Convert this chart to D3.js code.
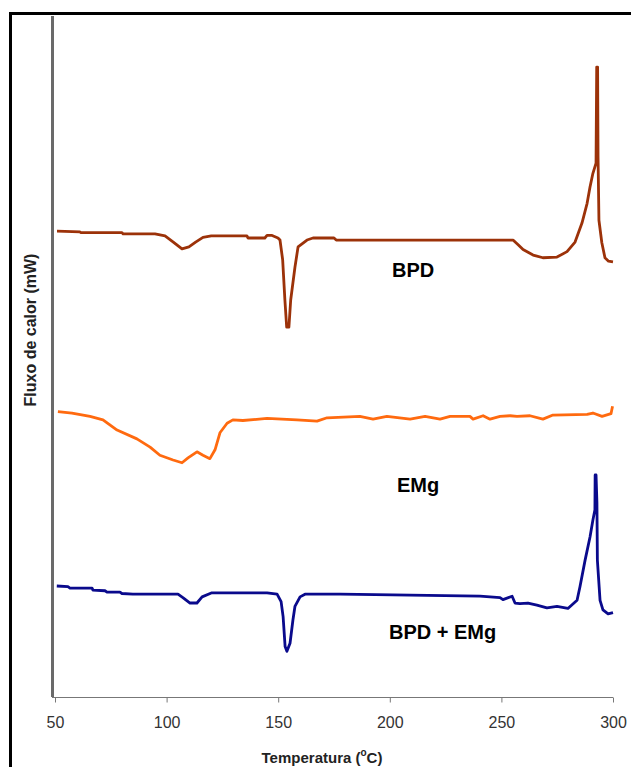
<!DOCTYPE html>
<html>
<head>
<meta charset="utf-8">
<script src="https://cdn.jsdelivr.net/npm/d3@7"></script>
<style>
  body { margin: 0; background: #fff; }
  svg { display: block; font-family: "Liberation Sans", Arial, sans-serif; }
</style>
</head>
<body>
<div id="chart"></div>
<script>
// eixo x: temperatura (°C)
var xTicks = [50, 100, 150, 200, 250, 300];

// curvas DSC (fluxo de calor, unidades arbitrárias, deslocadas)
var bpdT = [50.9, 61.2, 61.5, 80, 80.5, 94.8, 99.3, 103, 106.9, 110, 113, 116.3, 120, 136, 136.5, 144, 145, 147, 149.9, 150.8,
  152, 153, 153.8, 154.8, 155.6, 157.5, 158.9, 162.9, 165.6, 175, 176, 255.2, 257.5, 259.7, 264.2, 268.6, 274.9, 279.4, 283,
  286.1, 288.4, 289.7, 291, 292.4, 292.7, 293.1, 293.3, 293.7, 295, 296.4, 298, 300];
var bpdV = [68.4, 68.3, 68.2, 68.2, 68.0, 68.0, 67.7, 66.8, 65.8, 66.1, 66.8, 67.5, 67.7, 67.7, 67.4, 67.4, 67.8, 67.8, 67.4, 67.1,
  64.2, 58.3, 54.3, 54.3, 58.3, 63.1, 66.1, 67.1, 67.4, 67.4, 67.1, 67.1, 66.4, 65.7, 64.9, 64.5, 64.6, 65.4, 66.8,
  69.6, 72.5, 74.9, 76.9, 78.4, 92.5, 92.5, 79.3, 70.0, 66.7, 64.5, 64.0, 63.9];

var emgT = [51.3, 57.6, 65.7, 71.5, 77.8, 86.7, 92.6, 97.0, 102.9, 106.9, 109.6, 113.6, 116.3, 119.4, 121.7, 123.9, 127.1, 129.7,
  134.2, 145.0, 158.4, 167.4, 171.9, 186.6, 192.5, 198.7, 209.1, 215.8, 222.5, 227.0, 235.9, 237.3, 241.8, 244.9, 249.4,
  253.9, 257.0, 262.8, 268.6, 273.1, 288.4, 291.0, 295.1, 299.1, 299.8];
var emgV = [41.9, 41.7, 41.2, 40.7, 39.2, 37.9, 36.7, 35.5, 34.8, 34.4, 35.1, 36.0, 35.5, 35.0, 36.3, 38.8, 40.2, 40.7,
  40.6, 40.9, 40.7, 40.5, 41.0, 41.2, 40.8, 41.2, 40.8, 41.2, 40.8, 41.2, 41.2, 40.8, 41.3, 40.8, 41.2,
  41.3, 41.2, 41.3, 40.8, 41.4, 41.5, 41.7, 41.2, 41.6, 42.7];

var mixT = [50.8, 55.8, 56.7, 66.6, 67.0, 72.4, 73.3, 79.1, 80.0, 84.9, 105.1, 107.3, 110.5, 113.6, 115.9, 120.3, 145.0, 149.5,
  151.3, 152.2, 153.1, 153.9, 155.3, 156.6, 157.5, 159.8, 162.0, 177.7, 240.4, 249.4, 250.7, 254.8, 256.1, 258.3, 261.9,
  265.9, 270.4, 274.9, 279.8, 283.9, 285.2, 287.5, 289.7, 291.0, 291.9, 292.0, 292.4, 292.8, 293.0, 294.2, 295.5, 297.8, 300];
var mixV = [16.3, 16.2, 16.0, 16.0, 15.7, 15.6, 15.4, 15.4, 15.2, 15.1, 15.1, 14.6, 13.8, 13.8, 14.7, 15.3, 15.3, 15.1,
  14.0, 11.8, 7.4, 6.7, 7.9, 11.3, 13.3, 14.7, 15.1, 15.1, 14.8, 14.6, 14.3, 14.8, 13.8, 13.7, 13.8,
  13.5, 13.1, 13.3, 13.0, 14.2, 16.2, 20.1, 23.5, 26.0, 27.5, 32.6, 32.6, 28.5, 20.1, 14.2, 12.8, 12.2, 12.4];

var seriesNames = ['BPD', 'EMg', 'BPD + EMg'];
var seriesColors = ['#9c3209', '#ff6a0f', '#0a0a8c'];

var W = 631, H = 767;
var svg = d3.select('#chart').append('svg').attr('width', W).attr('height', H);

// moldura (só esquerda e topo visíveis)
svg.append('path')
  .attr('d', 'M10.5,' + H + 'V13.5H' + W)
  .attr('fill', 'none').attr('stroke', '#000').attr('stroke-width', 3);

var x = d3.scaleLinear().domain([50, 300]).range([55, 613]);
var y = d3.scaleLinear().domain([0, 100]).range([697, 16]);

// eixo y (sem marcas)
svg.append('line')
  .attr('x1', 52.5).attr('x2', 52.5).attr('y1', 16).attr('y2', 697)
  .attr('stroke', '#6a6a6a').attr('stroke-width', 3);

// eixo x
var gx = svg.append('g').attr('transform', 'translate(0,697.5)')
  .call(d3.axisBottom(x).tickValues(xTicks).tickSize(5).tickSizeOuter(0));
gx.select('.domain').attr('stroke', '#777').attr('d', 'M52,0H613');
gx.selectAll('.tick line').attr('stroke', '#777');
gx.selectAll('.tick text').attr('fill', '#333').attr('font-size', 16)
  .attr('y', 30.5).attr('dy', 0);

var line = d3.line().x(function(d) { return x(d[0]); }).y(function(d) { return y(d[1]); });

var allT = [bpdT, emgT, mixT], allV = [bpdV, emgV, mixV];
for (var i = 0; i < 3; i++) {
  var pts = d3.zip(allT[i], allV[i]);
  svg.append('path').datum(pts)
    .attr('d', line)
    .attr('fill', 'none')
    .attr('stroke', seriesColors[i])
    .attr('stroke-width', 2.8)
    .attr('stroke-linejoin', 'round');
}

// rótulos das curvas
var labelPos = [[392, 277], [397, 492], [389, 639]];
svg.selectAll('text.serie').data(seriesNames).enter().append('text')
  .attr('class', 'serie')
  .attr('x', function(d, i) { return labelPos[i][0]; })
  .attr('y', function(d, i) { return labelPos[i][1]; })
  .attr('font-size', 20).attr('font-weight', 'bold').attr('fill', '#000')
  .text(function(d) { return d; });

// títulos dos eixos
var xt = svg.append('text').attr('x', 322).attr('y', 763)
  .attr('text-anchor', 'middle').attr('font-size', 15).attr('font-weight', 'bold').attr('fill', '#222');
xt.append('tspan').text('Temperatura (');
xt.append('tspan').attr('font-size', 10).attr('dy', -7).text('o');
xt.append('tspan').attr('dy', 7).text('C)');

svg.append('text')
  .attr('transform', 'translate(36,330) rotate(-90)')
  .attr('text-anchor', 'middle').attr('font-size', 16).attr('font-weight', 'bold').attr('fill', '#222')
  .text('Fluxo de calor (mW)');
</script>
</body>
</html>
